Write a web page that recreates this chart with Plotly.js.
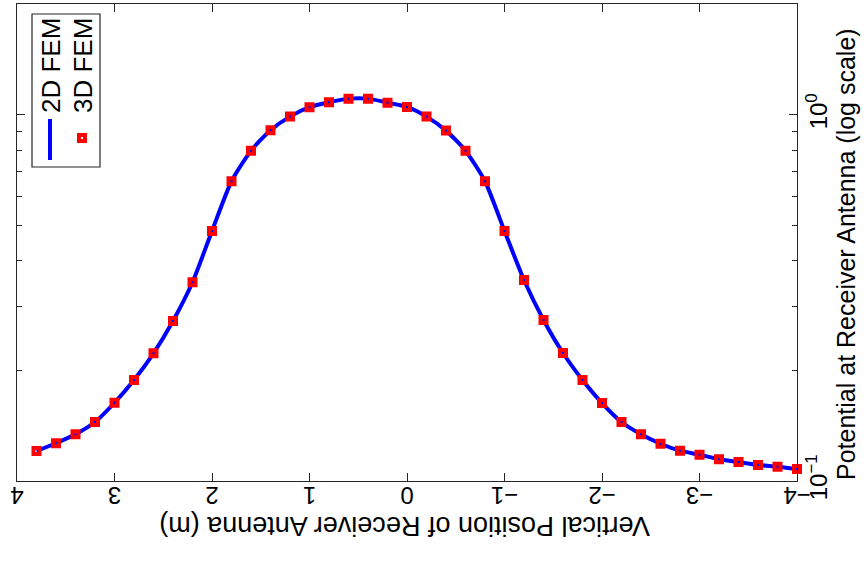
<!DOCTYPE html>
<html><head><meta charset="utf-8">
<script src="https://cdn.plot.ly/plotly-3.0.1.min.js"></script>
<style>html,body{margin:0;padding:0;background:#fff;}</style>
</head><body><div id="chart" style="width:867px;height:561px;"></div>
<script>
// Vertical position of receiver antenna (m)
const position = [3.8, 3.6, 3.4, 3.2, 3.0, 2.8, 2.6, 2.4, 2.2, 2.0, 1.8, 1.6, 1.4, 1.2, 1.0, 0.8, 0.6, 0.4, 0.2, 0.0,
  -0.2, -0.4, -0.6, -0.8, -1.0, -1.2, -1.4, -1.6, -1.8, -2.0, -2.2, -2.4, -2.6, -2.8, -3.0, -3.2, -3.4, -3.6, -3.8, -4.0];
// Potential at receiver antenna
const fem2d = [0.1208, 0.1268, 0.1341, 0.1449, 0.1636, 0.1888, 0.2233, 0.2736, 0.3490, 0.4820, 0.6590, 0.7988, 0.9082, 0.9894, 1.0496, 1.0832, 1.1079, 1.1079, 1.0804, 1.0517,
  0.9894, 0.9060, 0.7988, 0.6590, 0.4820, 0.3540, 0.2754, 0.2237, 0.1888, 0.1633, 0.1449, 0.1341, 0.1264, 0.1210, 0.1180, 0.1147, 0.1127, 0.1106, 0.1094, 0.1078];
const fem3d = [0.1208, 0.1268, 0.1341, 0.1449, 0.1636, 0.1888, 0.2233, 0.2736, 0.3490, 0.4820, 0.6590, 0.7988, 0.9082, 0.9894, 1.0496, 1.0832, 1.1079, 1.1079, 1.0804, 1.0517,
  0.9894, 0.9060, 0.7988, 0.6590, 0.4820, 0.3540, 0.2754, 0.2237, 0.1888, 0.1633, 0.1449, 0.1341, 0.1264, 0.1210, 0.1180, 0.1147, 0.1127, 0.1106, 0.1094, 0.1078];
const xTicks = [4, 3, 2, 1, 0, -1, -2, -3, -4];
const xTickText = ['4', '3', '2', '1', '0', '\u22121', '\u22122', '\u22123', '\u22124'];
const yTicks = [0.1, 1];
const yTickText = ['10<sup>\u22121</sup>', '10<sup>0</sup>'];
const yMinor = [0.2, 0.3, 0.4, 0.5, 0.6, 0.7, 0.8, 0.9, 2];
const seriesNames = ['2D FEM', '3D FEM'];

const W = 867, H = 561, L = 17, R = 70, T = 4, B = 80;
const pw = W - L - R, ph = H - T - B;
const px = v => (v - L) / pw;
const py = v => (H - B - v) / ph;
const FONT = 'Liberation Sans, Arial, Helvetica, sans-serif';
const axisColor = '#262626';

const traces = [
  {x: position, y: fem2d, name: seriesNames[0], mode: 'lines', type: 'scatter',
   line: {color: '#0000ff', width: 4, shape: 'spline', smoothing: 0.6}, cliponaxis: false},
  {x: position, y: fem3d, name: seriesNames[1], mode: 'markers', type: 'scatter',
   marker: {symbol: 'square-open', size: 6, color: '#ff0000', line: {color: '#ff0000', width: 4}}, cliponaxis: false}
];

const layout = {
  width: W, height: H,
  margin: {l: L, r: R, t: T, b: B},
  paper_bgcolor: '#fff', plot_bgcolor: '#fff',
  showlegend: false,
  font: {family: FONT, color: '#000', size: 20},
  xaxis: {
    range: [4, -4], tickvals: xTicks, ticktext: xTickText, tickangle: 180,
    ticks: 'inside', ticklen: 8, tickcolor: axisColor, mirror: 'ticks',
    showline: true, linecolor: axisColor, linewidth: 1.2, showgrid: false, zeroline: false,
    tickfont: {size: 24, family: FONT}
  },
  yaxis: {
    type: 'log', range: [-1, 0.303], side: 'right',
    tickvals: yTicks, ticktext: yTickText, tickangle: -90,
    ticks: 'inside', ticklen: 8, tickcolor: axisColor, mirror: 'ticks',
    showline: true, linecolor: axisColor, linewidth: 1.2, showgrid: false, zeroline: false,
    tickfont: {size: 24, family: FONT},
    minor: {tickvals: yMinor, ticks: 'inside', ticklen: 5, tickcolor: axisColor, showgrid: false}
  },
  annotations: [
    {xref: 'paper', yref: 'paper', x: px(405), y: py(526), text: 'Vertical Position of Receiver Antenna (m)',
     textangle: 180, showarrow: false, font: {size: 27, family: FONT}, xanchor: 'center', yanchor: 'middle'},
    {xref: 'paper', yref: 'paper', x: px(846), y: py(254), text: 'Potential at Receiver Antenna (log scale)',
     textangle: -90, showarrow: false, font: {size: 25, family: FONT}, xanchor: 'center', yanchor: 'middle'},
    {xref: 'paper', yref: 'paper', x: px(51), y: py(66), text: seriesNames[0],
     textangle: -90, showarrow: false, font: {size: 26, family: FONT}, xanchor: 'center', yanchor: 'middle'},
    {xref: 'paper', yref: 'paper', x: px(83), y: py(66), text: seriesNames[1],
     textangle: -90, showarrow: false, font: {size: 26, family: FONT}, xanchor: 'center', yanchor: 'middle'}
  ],
  shapes: [
    {type: 'rect', xref: 'paper', yref: 'paper', x0: px(32), x1: px(100), y0: py(14), y1: py(167),
     line: {color: axisColor, width: 1.2}, fillcolor: '#fff', layer: 'above'},
    {type: 'line', xref: 'paper', yref: 'paper', x0: px(50), x1: px(50), y0: py(119), y1: py(160),
     line: {color: '#0000ff', width: 4}, layer: 'above'},
    {type: 'rect', xref: 'paper', yref: 'paper', x0: px(79), x1: px(85), y0: py(135), y1: py(141),
     line: {color: '#ff0000', width: 4}, fillcolor: 'rgba(0,0,0,0)', layer: 'above'}
  ]
};

Plotly.newPlot('chart', traces, layout, {displayModeBar: false, staticPlot: true});
</script>
</body></html>
